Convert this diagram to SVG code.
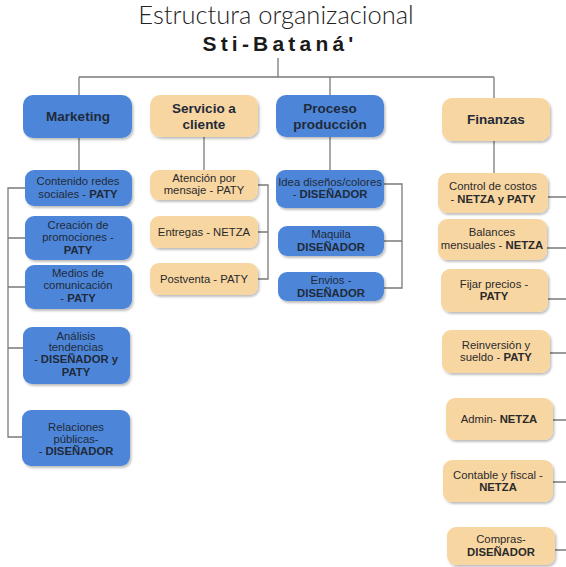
<svg xmlns="http://www.w3.org/2000/svg" width="566" height="567" viewBox="0 0 566 567">
<defs>
<filter id="sh" x="-10%" y="-10%" width="130%" height="140%">
<feDropShadow dx="1.5" dy="2" stdDeviation="1.2" flood-color="#000" flood-opacity="0.25"/>
</filter>
</defs>
<style>
.bg{fill:#ffffff}
.blue{fill:#4d86d8;filter:url(#sh)}
.peach{fill:#f8d6a2;filter:url(#sh)}
.ln{stroke:#7a7a7a;stroke-width:1.3;fill:none}
text{font-family:"Liberation Sans","DejaVu Sans",sans-serif;fill:#1f2a3a;text-anchor:middle}
.h{font-size:13.5px;font-weight:bold}
.c{font-size:11.3px}
.cw{font-size:11.3px;fill:#2a2a2a}
.b{font-weight:bold}
.title{font-family:"Lato","Open Sans","Liberation Sans",sans-serif;font-size:25.5px;font-weight:300;fill:#222}
.sub{font-size:21px;font-weight:bold;letter-spacing:4.2px;fill:#1a1a1a}
</style>
<rect class="bg" x="0" y="0" width="566" height="567"/>
<text class="title" x="276" y="24">Estructura organizacional</text>
<text class="sub" x="280" y="51">Sti-Bataná'</text>

<g id="connectors">
<path class="ln" d="M278 58V77M79 77H494M79 77V95M330 77V95M494 77V98"/>
<path class="ln" d="M79 138V170M204 137V170M330 137V170M494 141V173"/>
<path class="ln" d="M25 188H8V437H23M8 238H25M8 287H25M8 348H23"/>
<path class="ln" d="M258 185H268V279H258M258 232H268"/>
<path class="ln" d="M384 184H402V288H384M384 241H402"/>
<path class="ln" d="M548 197H566M547 248H566M548 299H566M550 353H566M553 420H566M553 482H566M555 550H566"/>
</g>

<g id="marketing"><rect class="blue" x="23" y="95" width="109" height="43" rx="10"/><text class="h" x="78" y="121">Marketing</text></g>
<g id="servicio"><rect class="peach" x="150" y="95" width="108" height="42" rx="10"/><text class="h" x="204" y="113">Servicio a</text><text class="h" x="204" y="129">cliente</text></g>
<g id="proceso"><rect class="blue" x="276" y="95" width="108" height="42" rx="10"/><text class="h" x="330" y="113">Proceso</text><text class="h" x="330" y="129">producción</text></g>
<g id="finanzas"><rect class="peach" x="442" y="98" width="108" height="43" rx="10"/><text class="h" x="496" y="124">Finanzas</text></g>

<g id="contenido"><rect class="blue" x="25" y="170" width="107" height="36" rx="9"/><text class="c" x="78" y="185">Contenido redes</text><text class="c" x="78" y="198">sociales - <tspan class="b">PATY</tspan></text></g>
<g id="creacion"><rect class="blue" x="25" y="216" width="107" height="44" rx="9"/><text class="c" x="78" y="229">Creación de</text><text class="c" x="78" y="241">promociones -</text><text class="c b" x="78" y="254">PATY</text></g>
<g id="medios"><rect class="blue" x="25" y="265" width="107" height="44" rx="9"/><text class="c" x="78" y="277">Medios de</text><text class="c" x="78" y="289">comunicación</text><text class="c" x="78" y="302">- <tspan class="b">PATY</tspan></text></g>
<g id="analisis"><rect class="blue" x="23" y="327" width="107" height="57" rx="9"/><text class="c" x="76" y="340">Análisis</text><text class="c" x="76" y="351">tendencias</text><text class="c" x="76" y="363">- <tspan class="b">DISEÑADOR y</tspan></text><text class="c b" x="76" y="376">PATY</text></g>
<g id="relaciones"><rect class="blue" x="22" y="410" width="108" height="56" rx="9"/><text class="c" x="76" y="431">Relaciones</text><text class="c" x="76" y="443">públicas-</text><text class="c" x="76" y="455">- <tspan class="b">DISEÑADOR</tspan></text></g>

<g id="atencion"><rect class="peach" x="150" y="170" width="108" height="30" rx="9"/><text class="cw" x="204" y="182">Atención por</text><text class="cw" x="204" y="194">mensaje - PATY</text></g>
<g id="entregas"><rect class="peach" x="150" y="216" width="108" height="32" rx="9"/><text class="cw" x="204" y="236">Entregas - NETZA</text></g>
<g id="postventa"><rect class="peach" x="150" y="263" width="108" height="32" rx="9"/><text class="cw" x="204" y="283">Postventa - PATY</text></g>

<g id="idea"><rect class="blue" x="276" y="170" width="108" height="38" rx="9"/><text class="c" x="330" y="186">Idea diseños/colores</text><text class="c" x="330" y="198">- <tspan class="b">DISEÑADOR</tspan></text></g>
<g id="maquila"><rect class="blue" x="278" y="226" width="106" height="30" rx="9"/><text class="c" x="331" y="238">Maquila</text><text class="c b" x="331" y="251">DISEÑADOR</text></g>
<g id="envios"><rect class="blue" x="278" y="272" width="106" height="29" rx="9"/><text class="c" x="331" y="284">Envios -</text><text class="c b" x="331" y="297">DISEÑADOR</text></g>

<g id="control"><rect class="peach" x="438" y="173" width="110" height="40" rx="9"/><text class="cw" x="493" y="190">Control de costos</text><text class="cw" x="493" y="203">- <tspan class="b">NETZA y PATY</tspan></text></g>
<g id="balances"><rect class="peach" x="438" y="219" width="109" height="41" rx="9"/><text class="cw" x="492" y="236">Balances</text><text class="cw" x="492" y="249">mensuales - <tspan class="b">NETZA</tspan></text></g>
<g id="fijar"><rect class="peach" x="441" y="269" width="107" height="43" rx="9"/><text class="cw" x="494" y="288">Fijar precios -</text><text class="cw b" x="494" y="300">PATY</text></g>
<g id="reinversion"><rect class="peach" x="442" y="330" width="108" height="43" rx="9"/><text class="cw" x="496" y="349">Reinversión y</text><text class="cw" x="496" y="361">sueldo - <tspan class="b">PATY</tspan></text></g>
<g id="admin"><rect class="peach" x="446" y="398" width="107" height="42" rx="9"/><text class="cw" x="499" y="423">Admin- <tspan class="b">NETZA</tspan></text></g>
<g id="contable"><rect class="peach" x="443" y="460" width="110" height="42" rx="9"/><text class="cw" x="498" y="479">Contable y fiscal -</text><text class="cw b" x="498" y="491">NETZA</text></g>
<g id="compras"><rect class="peach" x="447" y="527" width="108" height="38" rx="9"/><text class="cw" x="501" y="543">Compras-</text><text class="cw b" x="501" y="556">DISEÑADOR</text></g>
</svg>
